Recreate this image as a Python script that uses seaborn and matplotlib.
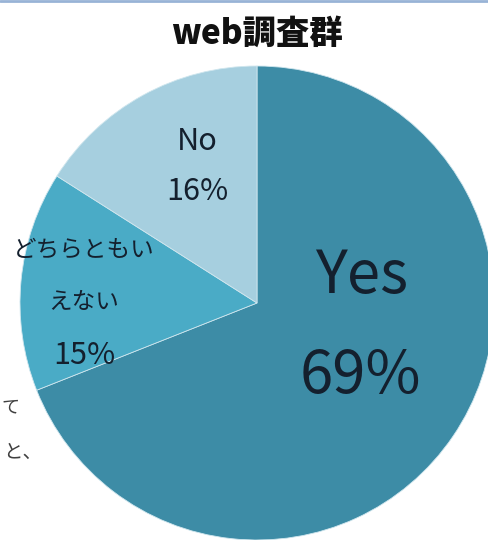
import matplotlib
matplotlib.use('Agg')
import matplotlib.pyplot as plt
import seaborn as sns
from matplotlib.lines import Line2D

# data
categories = ['Yes', 'どちらともいえない', 'No']
shares = [69, 15, 16]
slice_colors = ['#3d8ca6', '#4aabc6', '#a6cfdf']

sns.set_theme(style='white')
plt.rcParams['font.family'] = ['Noto Sans CJK JP', 'DejaVu Sans']

W, H = 488, 540
fig = plt.figure(figsize=(W / 100, H / 100), dpi=100)
ax = fig.add_axes([0, 0, 1, 1])

# pie in pixel units: centre (257, 303) from the top-left, radius 237
cx, cy, r = 257, 303, 237
ax.pie(shares, colors=slice_colors, startangle=90, counterclock=False,
       radius=r, center=(0, 0), wedgeprops=dict(edgecolor='#cfe6ee', linewidth=0.6))
ax.set_aspect('auto')
ax.set_xlim(-cx, W - cx)
ax.set_ylim(-(H - cy), cy)
ax.axis('off')

def px(x, y):
    # pixel position (from top-left) -> data coords
    return x - cx, cy - y

txt = '#14202e'
# Yes
ax.text(*px(362, 276), categories[0], ha='center', va='center', fontsize=43, color=txt)
ax.text(*px(360, 377), f'{shares[0]}%', ha='center', va='center', fontsize=43, color=txt)
# middle slice
ax.text(*px(84, 250), categories[1][:6], ha='center', va='center', fontsize=17, color=txt)
ax.text(*px(84, 302), categories[1][6:], ha='center', va='center', fontsize=17, color=txt)
ax.text(*px(84, 355), f'{shares[1]}%', ha='center', va='center', fontsize=22, color=txt)
# No
ax.text(*px(197, 142), categories[2], ha='center', va='center', fontsize=22, color=txt)
ax.text(*px(197, 192), f'{shares[2]}%', ha='center', va='center', fontsize=22, color=txt)

# title
fig.text(257 / W, 1 - 33 / H, 'web調査群', ha='center', va='center',
         fontsize=24, fontweight='black', color='#111111')

# text of the neighbouring panel on the left
fig.text(1 / W, 1 - 407 / H, 'て', ha='left', va='center', fontsize=13, color='#404040')
fig.text(3 / W, 1 - 452 / H, 'と、', ha='left', va='center', fontsize=14, color='#404040')

# thin frame line at the top
fig.add_artist(Line2D([0, 1], [1 - 1 / H, 1 - 1 / H], transform=fig.transFigure,
                      color='#98b3d6', linewidth=2))

fig.savefig('out.png', dpi=100)
